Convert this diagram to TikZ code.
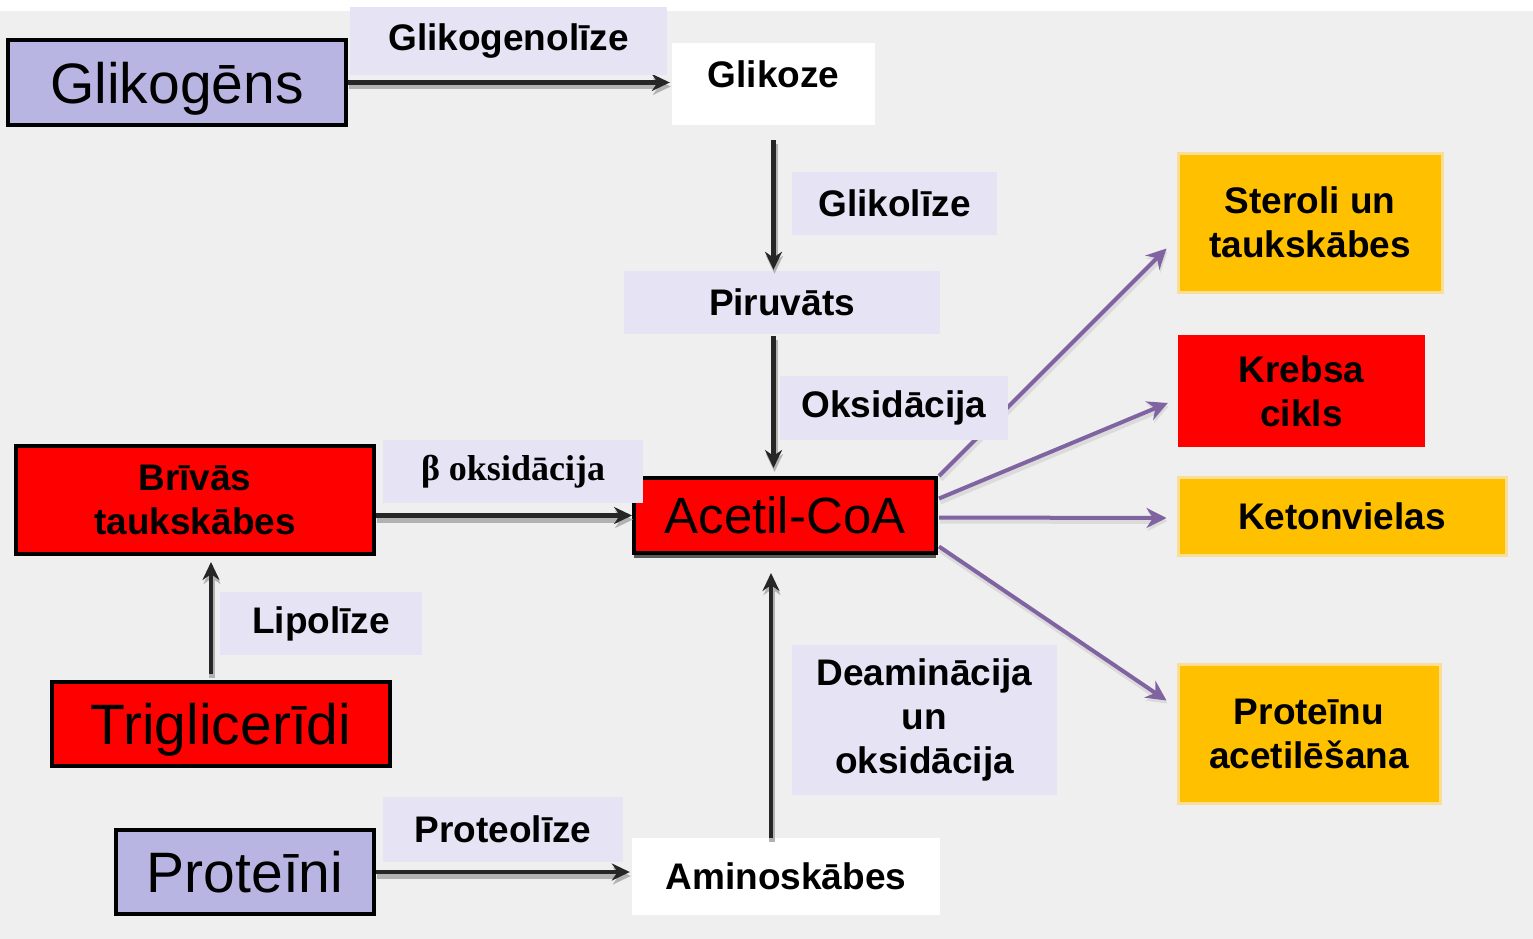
\documentclass[tikz,border=0pt]{standalone}
\usepackage{fontspec}
\setmainfont{Liberation Sans}
\newfontfamily\betafont{Liberation Serif}
\usetikzlibrary{arrows.meta,shadows}
\definecolor{bgc}{RGB}{239,239,239}
\definecolor{lilac}{RGB}{185,181,226}
\definecolor{lbgc}{RGB}{230,228,244}
\definecolor{amber}{RGB}{255,192,0}
\definecolor{amberedge}{RGB}{250,222,150}
\definecolor{violet}{RGB}{128,100,162}
\definecolor{darkarr}{RGB}{38,38,38}

\begin{document}
\begin{tikzpicture}[
  x=1pt, y=-1pt,
  font=\bfseries\fontsize{37}{44}\selectfont,
  box/.style={draw=black, line width=4pt, align=center, inner sep=0pt},
  big/.style={font=\mdseries\fontsize{57}{62}\selectfont, text depth=0pt},
  lbl/.style={fill=lbgc, align=center, inner sep=0pt},
  plain/.style={fill=white, align=center, inner sep=0pt},
  goal/.style={fill=amber, draw=amberedge, line width=3pt, align=center, inner sep=0pt},
  arr/.style={draw=darkarr, line width=4.5pt, -{Stealth[length=18pt,width=17pt]},
    preaction={draw=black!30, line width=6pt, transform canvas={xshift=1pt,yshift=-4pt}}},
  parr/.style={draw=violet, line width=4pt, -{Stealth[length=20pt,width=20pt]},
    preaction={draw=black!14, line width=6pt, transform canvas={xshift=1pt,yshift=-3pt}}}
]
\useasboundingbox (0,0) rectangle (1533,939);
\fill[bgc] (0,11) rectangle (1533,939);

% source and product boxes
\node[box, big, fill=lilac, minimum width=338pt, minimum height=85pt] (glikogens) at (177,82.5) {Glikogēns};
\node[plain, minimum width=203pt, text height=45pt, text depth=37pt] (glikoze) at (773.5,84) {Glikoze};
\node[lbl, minimum width=316pt, minimum height=63pt] (piruv) at (782,302.5) {Piruvāts};
\node[box, big, fill=red, minimum width=302pt, minimum height=75pt, font=\mdseries\fontsize{51}{56}\selectfont,
  drop shadow={shadow xshift=0pt, shadow yshift=-5pt, fill=black!65, opacity=1}] (acoa) at (785,515.5) {Acetil-CoA};
\node[box, fill=red, minimum width=358pt, minimum height=108pt] (brivas) at (195,500) {Brīvās\\taukskābes};
\node[box, big, fill=red, minimum width=338pt, minimum height=84pt] (trigl) at (221,724) {Triglicerīdi};
\node[box, big, fill=lilac, minimum width=258pt, minimum height=84pt] (proteini) at (245,872) {Proteīni};
\node[plain, minimum width=308pt, minimum height=77pt] (amino) at (786,876.5) {Aminoskābes};

\node[goal, minimum width=264pt, minimum height=139pt] (sterol) at (1310,222.5) {Steroli un\\taukskābes};
\node[fill=red, align=center, inner sep=0pt, minimum width=247pt, minimum height=112pt] (krebs) at (1301.5,391) {Krebsa\\cikls};
\node[goal, minimum width=328pt, minimum height=78pt] (keton) at (1342,516) {Ketonvielas};
\node[goal, minimum width=262pt, minimum height=139pt] (acetil) at (1309,733.5) {Proteīnu\\acetilēšana};

% pathways
\draw[arr] (glikogens.east) -- ([xshift=-2pt]glikogens.east -| glikoze.west);
\draw[arr] ([yshift=-15pt]glikoze.south) -- ([yshift=1pt]piruv.north -| glikoze.south);
\draw[arr] ([yshift=-2pt]piruv.south -| glikoze.south) -- ([yshift=8pt]acoa.north -| glikoze.south);
\draw[arr] (brivas.east |- acoa.west) -- (acoa.west);
\draw[arr] ([xshift=-10pt,yshift=6pt]trigl.north) -- ([xshift=-10pt,yshift=-6pt]trigl.north |- brivas.south);
\draw[arr] (proteini.east) -- ([xshift=-2pt]proteini.east -| amino.west);
\draw[arr] ([xshift=-15pt]amino.north) -- ([xshift=-15pt,yshift=-18pt]amino.north |- acoa.south);

\draw[parr] ([xshift=1pt]acoa.north east) -- ([xshift=-10pt,yshift=-26pt]sterol.west);
\draw[parr] ([xshift=1pt,yshift=17pt]acoa.east) -- ([xshift=-10pt,yshift=-12pt]krebs.west);
\draw[parr] ([xshift=1pt,yshift=-2pt]acoa.east) -- ([xshift=-10pt,yshift=-2pt]keton.west);
\draw[parr] ([xshift=1pt,yshift=-31pt]acoa.east) -- ([xshift=-10pt,yshift=33pt]acetil.west);

% process labels
\node[lbl, minimum width=317pt, minimum height=68pt] (glgl) at (508.5,41) {Glikogenolīze};
\node[lbl, minimum width=205pt, minimum height=63pt] (glkl) at (894.5,203.5) {Glikolīze};
\node[lbl, minimum width=228pt, minimum height=64pt] (oksid) at (894,408) {Oksidācija};
\node[lbl, minimum width=260pt, minimum height=63pt, font=\betafont\bfseries\fontsize{36}{44}\selectfont] (betaox) at (513,471.5) {β oksidācija};
\node[lbl, minimum width=202pt, minimum height=63pt] (lipol) at (321,623.5) {Lipolīze};
\node[lbl, minimum width=265pt, minimum height=150pt] (deamin) at (924.5,720) {Deaminācija\\un\\oksidācija};
\node[lbl, minimum width=240pt, minimum height=65pt] (protl) at (503,829.5) {Proteolīze};
\end{tikzpicture}
\end{document}
